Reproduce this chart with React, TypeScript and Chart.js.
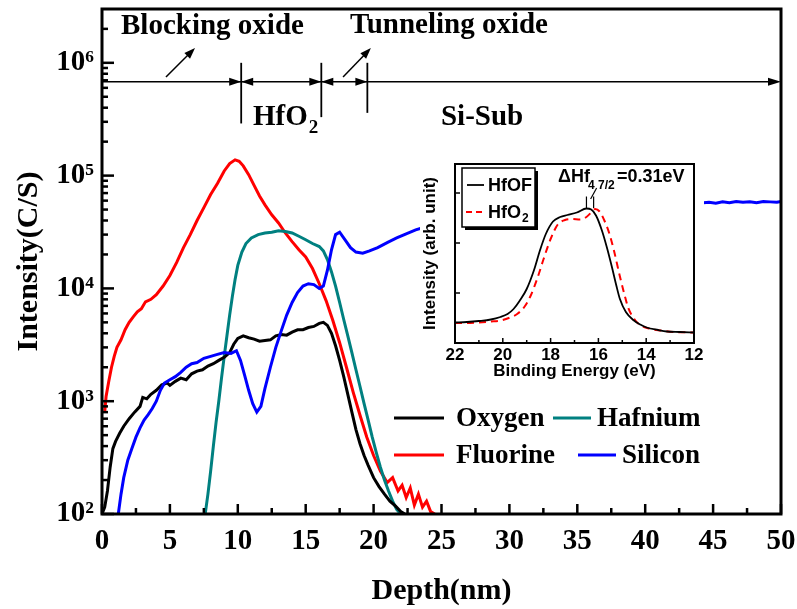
import React, { useEffect, useRef } from "react";
import { Chart, registerables } from "chart.js";

Chart.register(...registerables);

const SERIF = "'Liberation Serif', 'Times New Roman', serif";
const SANS = "'Liberation Sans', Arial, sans-serif";

// ---------- main chart data (depth in nm, intensity in C/S) ----------
const oxygenDepth = [0, 0.2, 0.4, 0.6, 0.8, 1.0, 1.3, 1.6, 2.0, 2.4, 2.8, 3.0, 3.3, 3.6, 4.0, 4.4, 4.8, 5.0, 5.4, 5.8, 6.2, 6.6, 7.0, 7.4, 7.8, 8.2, 8.6, 9.0, 9.4, 9.7, 10.0, 10.4, 10.8, 11.2, 11.6, 12.0, 12.4, 12.8, 13.2, 13.6, 14.0, 14.4, 14.8, 15.2, 15.6, 16.0, 16.3, 16.6, 16.9, 17.2, 17.5, 17.8, 18.1, 18.4, 18.7, 19.0, 19.3, 19.6, 20.0, 20.4, 20.8, 21.2, 21.6, 22.0, 22.3];
const oxygenCounts = [100, 115, 160, 260, 380, 440, 520, 600, 700, 800, 900, 1080, 1050, 1150, 1250, 1400, 1450, 1380, 1500, 1600, 1550, 1750, 1850, 1900, 2050, 2150, 2300, 2450, 2700, 3200, 3600, 3800, 3650, 3550, 3400, 3450, 3500, 3800, 3900, 3850, 4100, 4300, 4300, 4500, 4600, 4900, 5000, 4700, 4000, 3100, 2300, 1650, 1150, 800, 560, 420, 330, 270, 210, 175, 150, 130, 118, 105, 100];

const fluorineDepth = [0.2, 0.3, 0.5, 0.7, 0.9, 1.1, 1.4, 1.7, 2.0, 2.3, 2.6, 2.9, 3.2, 3.6, 4.0, 4.5, 5.0, 5.5, 6.0, 6.5, 7.0, 7.5, 8.0, 8.5, 9.0, 9.4, 9.8, 10.1, 10.4, 10.8, 11.2, 11.6, 12.0, 12.5, 13.0, 13.5, 14.0, 14.5, 15.0, 15.5, 16.0, 16.5, 17.0, 17.5, 18.0, 18.5, 19.0, 19.5, 20.0, 20.5, 21.0, 21.4, 21.8, 22.1, 22.4, 22.7, 23.0, 23.3, 23.6, 23.9, 24.2, 24.5];
const fluorineCounts = [800, 1100, 1500, 2000, 2500, 3000, 3500, 4300, 5000, 5600, 6200, 6600, 7600, 8000, 8800, 10500, 13000, 17000, 23000, 30000, 40000, 52000, 68000, 85000, 110000, 128000, 138000, 134000, 122000, 102000, 82000, 66000, 55000, 45000, 38000, 31000, 26000, 22000, 19000, 15000, 11000, 7800, 5200, 3300, 2000, 1200, 750, 480, 330, 240, 190, 210, 160, 180, 140, 170, 120, 150, 115, 130, 105, 100];

const hafniumDepth = [7.6, 7.8, 8.0, 8.2, 8.4, 8.6, 8.8, 9.0, 9.2, 9.4, 9.6, 9.8, 10.0, 10.3, 10.6, 11.0, 11.5, 12.0, 12.5, 13.0, 13.5, 14.0, 14.5, 15.0, 15.5, 16.0, 16.3, 16.6, 16.9, 17.2, 17.5, 17.8, 18.1, 18.4, 18.7, 19.0, 19.3, 19.6, 19.9, 20.2, 20.5, 20.8, 21.1, 21.4, 21.7, 22.0];
const hafniumCounts = [100, 150, 240, 400, 650, 1000, 1600, 2500, 3800, 5800, 8500, 12000, 16000, 21000, 25000, 28000, 30000, 31000, 31500, 32500, 32000, 31000, 29000, 27000, 25000, 23500, 21500, 18000, 14000, 10500, 7500, 5300, 3800, 2700, 1900, 1350, 950, 680, 480, 350, 260, 200, 160, 130, 110, 100];

const siliconDepth = [1.2, 1.4, 1.6, 1.9, 2.2, 2.5, 2.8, 3.1, 3.4, 3.7, 4.0, 4.3, 4.6, 5.0, 5.4, 5.8, 6.2, 6.6, 7.0, 7.5, 8.0, 8.5, 9.0, 9.5, 9.9, 10.2, 10.5, 10.8, 11.1, 11.4, 11.7, 12.0, 12.4, 12.8, 13.2, 13.6, 14.0, 14.4, 14.8, 15.2, 15.6, 16.0, 16.3, 16.6, 16.9, 17.2, 17.5, 17.9, 18.3, 18.7, 19.2, 19.7, 20.3, 21.0, 21.7, 22.4, 23.1, 23.8, 25, 27, 29, 31, 33, 35, 37, 39, 41, 43, 44.3, 44.7, 45.2, 45.7, 46.2, 46.7, 47.2, 47.7, 48.2, 48.7, 49.2, 49.7, 50];
const siliconCounts = [100, 150, 210, 300, 380, 480, 580, 680, 760, 860, 1000, 1250, 1450, 1550, 1650, 1800, 2000, 2150, 2200, 2400, 2500, 2600, 2700, 2650, 2800, 2300, 1700, 1250, 950, 800, 900, 1300, 2000, 3000, 4200, 5800, 7500, 9200, 10500, 11000, 10800, 10000, 10500, 14500, 22000, 30000, 31500, 27000, 23000, 21000, 20500, 21500, 23000, 25500, 28000, 30500, 33000, 35000, 38000, 42000, 45500, 48500, 51000, 53000, 54500, 56000, 57000, 57500, 57500, 58000, 57000, 58500, 57500, 59000, 58000, 58500, 57500, 59000, 58500, 58000, 59000];

const seriesNames = ["Oxygen", "Fluorine", "Hafnium", "Silicon"];
const seriesColors = ["#000000", "#ff0000", "#008080", "#0000ff"];

const xTicksMajor = [0, 5, 10, 15, 20, 25, 30, 35, 40, 45, 50];
const yDecades = [2, 3, 4, 5, 6];
const Y_MIN = 100;
const Y_MAX = 3e6;

// layer boundaries (nm) and annotation levels (C/S)
const layerBounds = [10.25, 16.15, 19.54];
const boundTop = 1e6;
const boundBottoms = [2.9e5, 3.3e5, 3.6e5];
const annotLineLevel = 6.8e5;

// ---------- inset data (binding energy eV, arb. intensity) ----------
const hfofEnergy = [22, 21.5, 21, 20.5, 20.1, 19.8, 19.55, 19.3, 19.0, 18.7, 18.44, 18.2, 17.9, 17.6, 17.3, 16.9, 16.5, 16.3, 16.1, 15.86, 15.65, 15.44, 15.25, 15.1, 14.85, 14.54, 14.25, 13.98, 13.5, 13.14, 12.6, 12];
const hfofIntensity = [0.41, 0.42, 0.44, 0.47, 0.52, 0.58, 0.68, 0.84, 1.08, 1.45, 1.86, 2.18, 2.43, 2.52, 2.56, 2.61, 2.69, 2.67, 2.55, 2.26, 1.92, 1.53, 1.15, 0.88, 0.62, 0.46, 0.37, 0.31, 0.26, 0.23, 0.22, 0.21];
const hfo2Energy = [22, 21.5, 21, 20.5, 20.1, 19.7, 19.4, 19.1, 18.85, 18.55, 18.3, 18.0, 17.7, 17.4, 17.1, 16.77, 16.5, 16.3, 16.14, 15.95, 15.75, 15.55, 15.35, 15.1, 14.9, 14.75, 14.5, 14.26, 13.8, 13.4, 12.8, 12];
const hfo2Intensity = [0.40, 0.40, 0.41, 0.43, 0.45, 0.51, 0.58, 0.72, 0.93, 1.3, 1.67, 2.08, 2.37, 2.46, 2.48, 2.47, 2.52, 2.61, 2.68, 2.63, 2.45, 2.2, 1.85, 1.33, 0.95, 0.7, 0.48, 0.36, 0.28, 0.25, 0.22, 0.21];
const peakMarks = [16.5, 16.2];

const SUP = "⁰¹²³⁴⁵⁶⁷⁸⁹";

function pts(xs: number[], ys: number[]) {
  return xs.map((x, i) => ({ x, y: ys[i] }));
}

function seg(ctx: CanvasRenderingContext2D, x1: number, y1: number, x2: number, y2: number) {
  ctx.beginPath();
  ctx.moveTo(x1, y1);
  ctx.lineTo(x2, y2);
  ctx.stroke();
}

function head(ctx: CanvasRenderingContext2D, tx: number, ty: number, ang: number, len: number, half: number) {
  const bx = tx - Math.cos(ang) * len;
  const by = ty - Math.sin(ang) * len;
  const nx = -Math.sin(ang) * half;
  const ny = Math.cos(ang) * half;
  ctx.beginPath();
  ctx.moveTo(tx, ty);
  ctx.lineTo(bx + nx, by + ny);
  ctx.lineTo(bx - nx, by - ny);
  ctx.closePath();
  ctx.fill();
}

function zeroPad(s: any) {
  s.paddingTop = 0;
  s.paddingBottom = 0;
  s.paddingLeft = 0;
  s.paddingRight = 0;
}

const mainDecor = {
  id: "mainDecor",
  afterDraw(chart: any) {
    const { ctx, chartArea: a, scales } = chart;
    const xs = scales.x;
    const ys = scales.y;
    const X = (v: number) => xs.getPixelForValue(v);
    const Y = (v: number) => ys.getPixelForValue(v);
    ctx.save();
    ctx.strokeStyle = "#000";
    ctx.fillStyle = "#000";
    ctx.lineCap = "butt";

    // frame
    ctx.lineWidth = 3;
    ctx.strokeRect(a.left, a.top, a.right - a.left, a.bottom - a.top);

    // y ticks (inward)
    ctx.lineWidth = 2.5;
    for (const e of yDecades) {
      for (let m = 1; m <= 9; m++) {
        const v = m * Math.pow(10, e);
        if (v >= Y_MAX) break;
        const py = Y(v);
        seg(ctx, a.left, py, a.left + (m === 1 ? 12 : 6), py);
      }
    }
    // x ticks (inward)
    for (let i = 0; i < xTicksMajor.length; i++) {
      const v = xTicksMajor[i];
      seg(ctx, X(v), a.bottom, X(v), a.bottom - 10);
      if (i < xTicksMajor.length - 1) {
        const mv = v + 2.5;
        seg(ctx, X(mv), a.bottom, X(mv), a.bottom - 6);
      }
    }

    // layer annotation line
    const ly = Y(annotLineLevel);
    ctx.lineWidth = 1.5;
    seg(ctx, a.left, ly, a.right - 4, ly);
    head(ctx, a.right, ly, 0, 13, 4);
    ctx.lineWidth = 1.8;
    layerBounds.forEach((b, i) => {
      seg(ctx, X(b), Y(boundTop), X(b), Y(boundBottoms[i]));
    });
    const b0 = X(layerBounds[0]);
    const b1 = X(layerBounds[1]);
    const b2 = X(layerBounds[2]);
    head(ctx, b0, ly, 0, 12, 4);
    head(ctx, b0, ly, Math.PI, 12, 4);
    head(ctx, b1, ly, 0, 12, 4);
    head(ctx, b1, ly, Math.PI, 12, 4);
    head(ctx, b2, ly, 0, 12, 4);

    // pointer arrows
    ctx.lineWidth = 1.5;
    const arrow = (x1: number, y1: number, x2: number, y2: number) => {
      const px1 = X(x1), py1 = Y(y1), px2 = X(x2), py2 = Y(y2);
      const ang = Math.atan2(py2 - py1, px2 - px1);
      seg(ctx, px1, py1, px2 - Math.cos(ang) * 6, py2 - Math.sin(ang) * 6);
      head(ctx, px2, py2, ang, 11, 4);
    };
    arrow(4.71, 7.5e5, 6.85, 1.35e6);
    arrow(17.75, 7.5e5, 19.8, 1.35e6);

    // texts
    ctx.textBaseline = "alphabetic";
    ctx.textAlign = "left";
    ctx.font = `bold 29px ${SERIF}`;
    ctx.fillText("Blocking oxide", X(1.4), Y(1.8e6));
    ctx.fillText("Tunneling oxide", X(18.26), Y(1.84e6));
    ctx.fillText("Si-Sub", X(24.96), Y(2.8e5));
    const hx = X(11.12);
    const hy = Y(2.8e5);
    ctx.fillText("HfO", hx, hy);
    const hw = ctx.measureText("HfO").width;
    ctx.font = `bold 19px ${SERIF}`;
    ctx.fillText("2", hx + hw + 1, hy + 8);

    // legend
    const rows = [
      { y: 418, items: [{ i: 0, lx: 394, len: 50, tx: 456 }, { i: 2, lx: 553, len: 38, tx: 597 }] },
      { y: 455, items: [{ i: 1, lx: 394, len: 50, tx: 456 }, { i: 3, lx: 578, len: 38, tx: 622 }] },
    ];
    ctx.font = `bold 27px ${SERIF}`;
    ctx.textBaseline = "middle";
    for (const r of rows) {
      for (const it of r.items) {
        ctx.strokeStyle = seriesColors[it.i];
        ctx.lineWidth = 3;
        seg(ctx, it.lx, r.y, it.lx + it.len, r.y);
        ctx.fillStyle = "#000";
        ctx.fillText(seriesNames[it.i], it.tx, r.y + 1);
      }
    }
    ctx.restore();
  },
};

const insetDecor = {
  id: "insetDecor",
  beforeDraw(chart: any) {
    const { ctx, width, height } = chart;
    ctx.save();
    ctx.fillStyle = "#ffffff";
    ctx.fillRect(0, 0, width, height);
    ctx.restore();
  },
  afterDraw(chart: any) {
    const { ctx, chartArea: a, scales } = chart;
    const X = (v: number) => scales.x.getPixelForValue(v);
    const Y = (v: number) => scales.y.getPixelForValue(v);
    ctx.save();
    ctx.strokeStyle = "#000";
    ctx.fillStyle = "#000";
    ctx.lineWidth = 2;
    ctx.strokeRect(a.left, a.top, a.right - a.left, a.bottom - a.top);
    ctx.lineWidth = 1.5;
    for (let v = 12; v <= 22; v++) {
      const len = v % 2 === 0 ? 5 : 3;
      seg(ctx, X(v), a.bottom, X(v), a.bottom - len);
    }
    for (const v of [1, 2, 3]) {
      seg(ctx, a.left, Y(v), a.left + 5, Y(v));
    }

    // legend box with shadow
    const lx = 42, ly = 10, lw = 73, lh = 59;
    ctx.fillStyle = "#000";
    ctx.fillRect(lx + 3, ly + 3, lw, lh);
    ctx.fillStyle = "#fff";
    ctx.fillRect(lx, ly, lw, lh);
    ctx.strokeStyle = "#000";
    ctx.lineWidth = 1.5;
    ctx.strokeRect(lx, ly, lw, lh);
    ctx.lineWidth = 1.8;
    seg(ctx, 47, 27, 64, 27);
    ctx.strokeStyle = "#ff0000";
    ctx.lineWidth = 2;
    ctx.setLineDash([6, 4]);
    seg(ctx, 46, 54, 65, 54);
    ctx.setLineDash([]);
    ctx.fillStyle = "#000";
    ctx.font = `bold 18px ${SANS}`;
    ctx.textBaseline = "middle";
    ctx.textAlign = "left";
    ctx.fillText(chart.data.datasets[0].label, 68, 28);
    ctx.fillText("HfO", 68, 55);
    const w = ctx.measureText("HfO").width;
    ctx.font = `bold 12px ${SANS}`;
    ctx.fillText("2", 68 + w + 1, 61);

    // delta annotation
    ctx.font = `bold 18px ${SANS}`;
    ctx.fillText("ΔHf", 138, 19);
    ctx.font = `bold 12px ${SANS}`;
    ctx.fillText("4 7/2", 168, 28);
    ctx.font = `bold 18px ${SANS}`;
    ctx.fillText("=0.31eV", 197, 19);
    ctx.strokeStyle = "#000";
    ctx.lineWidth = 1.2;
    for (const p of peakMarks) {
      seg(ctx, X(p), Y(2.7), X(p), Y(2.93));
    }
    seg(ctx, X(peakMarks[1]) - 3, Y(2.88), X(peakMarks[1]) + 3, Y(3.1));
    ctx.restore();
  },
};

export default function App() {
  const mainRef = useRef<HTMLCanvasElement | null>(null);
  const insetRef = useRef<HTMLCanvasElement | null>(null);

  useEffect(() => {
    document.body.style.margin = "0";
    if (!mainRef.current || !insetRef.current) return;

    const tickFont = { family: SERIF, size: 29, weight: "bold" as const };
    const titleFont = { family: SERIF, size: 30, weight: "bold" as const };

    const main = new Chart(mainRef.current, {
      type: "line",
      data: {
        datasets: [
          { label: seriesNames[3], data: pts(siliconDepth, siliconCounts), borderColor: seriesColors[3] },
          { label: seriesNames[0], data: pts(oxygenDepth, oxygenCounts), borderColor: seriesColors[0] },
          { label: seriesNames[2], data: pts(hafniumDepth, hafniumCounts), borderColor: seriesColors[2] },
          { label: seriesNames[1], data: pts(fluorineDepth, fluorineCounts), borderColor: seriesColors[1] },
        ].map((d) => ({ ...d, borderWidth: 3, pointRadius: 0, tension: 0, fill: false })),
      },
      options: {
        animation: false,
        responsive: false,
        events: [],
        layout: { padding: { top: 9, right: 16, left: 0, bottom: 0 } },
        plugins: { legend: { display: false }, tooltip: { enabled: false } },
        scales: {
          x: {
            type: "linear",
            min: 0,
            max: 50,
            ticks: { stepSize: 5, font: tickFont, color: "#000", padding: 10, maxRotation: 0, autoSkip: false },
            grid: { display: false, drawTicks: false },
            border: { display: false },
            title: { display: true, text: "Depth(nm)", font: titleFont, color: "#000", padding: { top: 0, bottom: 0 } },
            afterFit: (s: any) => {
              s.height = 95;
              zeroPad(s);
            },
          },
          y: {
            type: "logarithmic",
            min: Y_MIN,
            max: Y_MAX,
            ticks: {
              autoSkip: false,
              font: tickFont,
              color: "#000",
              padding: 8,
              callback: (v: any) => {
                const e = Math.log10(Number(v));
                const r = Math.round(e);
                if (Math.abs(e - r) < 1e-9 && yDecades.includes(r)) return "10" + SUP[r];
                return "";
              },
            },
            grid: { display: false, drawTicks: false },
            border: { display: false },
            title: { display: true, text: "Intensity(C/S)", font: titleFont, color: "#000", padding: { top: 11, bottom: 0 } },
            afterFit: (s: any) => {
              s.width = 102;
              zeroPad(s);
            },
          },
        },
      },
      plugins: [mainDecor],
    } as any);

    const inset = new Chart(insetRef.current, {
      type: "line",
      data: {
        datasets: [
          {
            label: "HfOF",
            data: pts(hfofEnergy, hfofIntensity),
            borderColor: "#000",
            borderWidth: 1.8,
            pointRadius: 0,
            cubicInterpolationMode: "monotone",
            fill: false,
          },
          {
            label: "HfO₂",
            data: pts(hfo2Energy, hfo2Intensity),
            borderColor: "#ff0000",
            borderWidth: 2,
            borderDash: [7, 5],
            pointRadius: 0,
            cubicInterpolationMode: "monotone",
            fill: false,
          },
        ],
      },
      options: {
        animation: false,
        responsive: false,
        events: [],
        layout: { padding: { top: 6, right: 10, left: 0, bottom: 0 } },
        plugins: { legend: { display: false }, tooltip: { enabled: false } },
        scales: {
          x: {
            type: "linear",
            min: 12,
            max: 22,
            reverse: true,
            ticks: { stepSize: 2, font: { family: SANS, size: 17, weight: "bold" }, color: "#000", padding: 2, maxRotation: 0 },
            grid: { display: false, drawTicks: false },
            border: { display: false },
            title: { display: true, text: "Binding Energy (eV)", font: { family: SANS, size: 17, weight: "bold" }, color: "#000", padding: { top: 0, bottom: 0 } },
            afterFit: (s: any) => {
              s.height = 39;
              zeroPad(s);
            },
          },
          y: {
            type: "linear",
            min: 0,
            max: 3.58,
            ticks: { display: false },
            grid: { display: false, drawTicks: false },
            border: { display: false },
            title: { display: true, text: "Intensity (arb. unit)", font: { family: SANS, size: 17, weight: "bold" }, color: "#000", padding: { top: 0, bottom: 0 } },
            afterFit: (s: any) => {
              s.width = 35;
              zeroPad(s);
            },
          },
        },
      },
      plugins: [insetDecor],
    } as any);

    return () => {
      main.destroy();
      inset.destroy();
    };
  }, []);

  return (
    <div style={{ position: "relative", width: 797, height: 609, background: "#fff" }}>
      <canvas ref={mainRef} width={797} height={609} style={{ display: "block" }} />
      <canvas
        ref={insetRef}
        width={284}
        height={224}
        style={{ position: "absolute", left: 420, top: 158, display: "block" }}
      />
    </div>
  );
}
